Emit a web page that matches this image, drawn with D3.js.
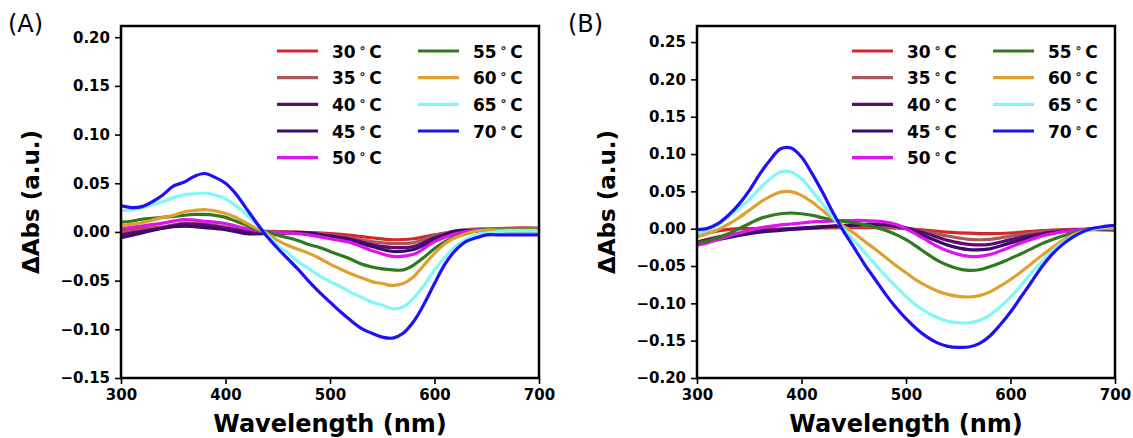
<!DOCTYPE html>
<html>
<head>
<meta charset="utf-8">
<script src="https://cdn.jsdelivr.net/npm/d3@7"></script>
<style>
  html, body { margin: 0; padding: 0; background: #fff; }
  svg { display: block; }
  text { font-family: "DejaVu Sans", sans-serif; }
</style>
</head>
<body>
<svg id="chart" width="1133" height="438"></svg>
<script>
// ---------- data ----------
const temps = ["30", "35", "40", "45", "50", "55", "60", "65", "70"];
const colors = ["#d62728", "#a65a5a", "#5e0a72", "#3d0a6b", "#dc14f0", "#2f7a1f", "#e0a030", "#80f8f8", "#1f10f5"];

const wl10 = [300,310,320,330,340,350,360,370,380,390,400,410,420,430,440,450,460,470,480,490,500,
              510,520,530,540,550,560,570,580,590,600,610,620,630,640,650,660,670,680,690,700];
const wl20 = [300,320,340,360,380,400,420,440,460,480,500,520,540,560,580,600,620,640,660,680,700];

const xTicks = [300, 400, 500, 600, 700];
const yTicksA = [-0.15, -0.10, -0.05, 0.00, 0.05, 0.10, 0.15, 0.20];
const yTicksB = [-0.20, -0.15, -0.10, -0.05, 0.00, 0.05, 0.10, 0.15, 0.20, 0.25];

// Panel A (20 nm sampling for the small curves, 10 nm for the large ones)
const a30 = [0.0017,0.0034,0.005,0.0065,0.006,0.004,0.0017,0.0007,0,-0.0007,-0.0017,-0.0034,-0.006,-0.008,-0.007,-0.003,0.0007,0.0024,0.0034,0.004,0.0034];
const a35 = [-0.001,0.002,0.005,0.009,0.008,0.005,0.0015,0,0,-0.001,-0.003,-0.006,-0.010,-0.012,-0.011,-0.004,0.001,0.003,0.003,0.004,0.004];
const a40 = [-0.003,0.0007,0.004,0.008,0.007,0.004,0.0007,-0.0007,-0.0007,-0.002,-0.004,-0.0075,-0.013,-0.016,-0.015,-0.006,0,0.0017,0.0017,0.0017,0.0017];
const a45 = [-0.006,-0.001,0.004,0.006,0.0045,0.0024,-0.0017,-0.0017,-0.001,-0.001,-0.005,-0.0086,-0.015,-0.020,-0.018,-0.008,0.001,0.001,0.001,0.001,0.001];
const a50 = [0.0034,0.006,0.009,0.0127,0.011,0.0086,0.0034,0,-0.001,-0.003,-0.007,-0.011,-0.019,-0.025,-0.023,-0.010,-0.002,0.002,0.002,0.002,0.002];
const a55 = [0.010,0.011,0.013,0.014,0.015,0.016,0.017,0.018,0.018,0.017,0.015,0.011,0.007,0.0024,0,-0.0034,-0.006,-0.009,-0.013,-0.016,-0.020,
             -0.024,-0.028,-0.033,-0.036,-0.038,-0.039,-0.039,-0.034,-0.026,-0.017,-0.010,-0.005,-0.002,0.001,0.0024,0.0024,0.0024,0.0024,0.0024,0.0024];
const a60 = [0.006,0.008,0.0096,0.012,0.015,0.017,0.0205,0.022,0.023,0.0216,0.019,0.015,0.009,0.0034,-0.0017,-0.0086,-0.014,-0.018,-0.022,-0.027,-0.033,
             -0.038,-0.043,-0.047,-0.051,-0.053,-0.055,-0.053,-0.046,-0.034,-0.022,-0.012,-0.006,-0.002,0.001,0.002,0.002,0.002,0.002,0.002,0.002];
const a65 = [0.0216,0.023,0.025,0.028,0.031,0.035,0.038,0.039,0.040,0.038,0.034,0.027,0.018,0.0075,-0.0034,-0.014,-0.022,-0.031,-0.038,-0.045,-0.051,
             -0.056,-0.062,-0.067,-0.072,-0.075,-0.079,-0.077,-0.068,-0.055,-0.039,-0.026,-0.015,-0.008,-0.003,-0.001,0,0.001,0.001,0.001,0.001];
const a70 = [0.027,0.025,0.026,0.031,0.038,0.047,0.051,0.057,0.060,0.056,0.050,0.039,0.024,0.009,-0.005,-0.017,-0.028,-0.039,-0.051,-0.062,-0.072,
             -0.082,-0.091,-0.099,-0.104,-0.108,-0.109,-0.104,-0.092,-0.074,-0.053,-0.033,-0.019,-0.010,-0.006,-0.003,-0.003,-0.003,-0.003,-0.003,-0.003];

// Panel B
const b30 = [-0.009,-0.003,0,0,-0.0004,0,0.001,0.0013,0.0013,0.0013,0,-0.0022,-0.0045,-0.006,-0.0067,-0.0058,-0.0036,-0.0018,-0.0009,-0.0013,-0.002];
const b35 = [-0.018,-0.011,-0.0067,-0.003,-0.0013,0.0004,0.0018,0.0027,0.003,0.003,0.0004,-0.0045,-0.0098,-0.0143,-0.0143,-0.010,-0.006,-0.003,-0.0013,-0.0004,-0.0013];
const b40 = [-0.018,-0.012,-0.0067,-0.003,-0.001,0.001,0.0027,0.004,0.0054,0.005,0.0013,-0.0067,-0.0156,-0.021,-0.021,-0.0147,-0.009,-0.0045,-0.0018,-0.0004,-0.0004];
const b45 = [-0.020,-0.0147,-0.009,-0.0045,-0.0022,0,0.0022,0.004,0.0058,0.0058,0,-0.011,-0.022,-0.028,-0.027,-0.019,-0.012,-0.0058,-0.0022,-0.0004,-0.0004];
const b50 = [-0.022,-0.019,-0.0147,-0.010,-0.0058,-0.0022,0.001,0.003,0.005,0.0063,0.0076,0.009,0.0098,0.0103,0.0107,0.011,0.011,0.0103,0.009,0.0058,0,
             -0.0076,-0.0156,-0.0237,-0.030,-0.0344,-0.037,-0.037,-0.0348,-0.030,-0.0246,-0.019,-0.0143,-0.0098,-0.0067,-0.004,-0.0022,-0.0009,0,0,0];
const b55 = [-0.019,-0.0165,-0.012,-0.0067,0,0.0067,0.0134,0.0174,0.020,0.021,0.020,0.018,0.0147,0.012,0.0098,0.008,0.0054,0.0022,-0.0022,-0.0076,-0.0147,
             -0.0237,-0.0335,-0.0424,-0.049,-0.0536,-0.0558,-0.055,-0.051,-0.046,-0.040,-0.0335,-0.027,-0.020,-0.0147,-0.0098,-0.0058,-0.0022,-0.0004,0,0];
const b60 = [-0.011,-0.0067,-0.0013,0.006,0.0147,0.0246,0.035,0.0433,0.049,0.0496,0.0446,0.0357,0.0246,0.0134,0.0036,-0.0058,-0.0165,-0.027,-0.038,-0.049,-0.059,
             -0.069,-0.077,-0.0835,-0.088,-0.0906,-0.0915,-0.0897,-0.085,-0.077,-0.068,-0.058,-0.047,-0.036,-0.0254,-0.0156,-0.008,-0.003,-0.0004,0.0004,0.0004];
const b65 = [-0.0067,-0.002,0.005,0.0156,0.027,0.039,0.054,0.067,0.076,0.076,0.067,0.051,0.0335,0.0156,0,-0.0156,-0.031,-0.047,-0.0625,-0.077,-0.0906,
             -0.103,-0.112,-0.119,-0.124,-0.126,-0.126,-0.123,-0.116,-0.105,-0.0915,-0.076,-0.059,-0.044,-0.030,-0.019,-0.010,-0.0045,-0.0004,0.002,0.003];
const b70 = [-0.0013,0.0004,0.0067,0.018,0.0326,0.051,0.073,0.092,0.107,0.108,0.096,0.074,0.049,0.022,-0.003,-0.0246,-0.047,-0.067,-0.087,-0.105,-0.1205,
             -0.134,-0.145,-0.153,-0.1576,-0.159,-0.1585,-0.154,-0.144,-0.129,-0.1116,-0.0915,-0.0714,-0.051,-0.034,-0.021,-0.011,-0.0036,0.0009,0.003,0.0045];

const seriesA = [[wl20,a30],[wl20,a35],[wl20,a40],[wl20,a45],[wl20,a50],[wl10,a55],[wl10,a60],[wl10,a65],[wl10,a70]];
const seriesB = [[wl20,b30],[wl20,b35],[wl20,b40],[wl20,b45],[wl10,b50],[wl10,b55],[wl10,b60],[wl10,b65],[wl10,b70]];

// ---------- drawing ----------
const svg = d3.select("#chart");

function panel(opts) {
  const { left, right, top, bottom, yDomain, yTicks, series, tag, tagX, legX } = opts;
  const x = d3.scaleLinear().domain([300, 700]).range([left, right]);
  const y = d3.scaleLinear().domain(yDomain).range([bottom, top]);
  const g = svg.append("g");

  const clipId = "clip" + tag;
  svg.append("clipPath").attr("id", clipId).append("rect")
    .attr("x", left).attr("y", top).attr("width", right - left).attr("height", bottom - top);

  const line = d3.line().curve(d3.curveCatmullRom.alpha(0.5));
  const lg = g.append("g").attr("clip-path", `url(#${clipId})`);
  series.forEach((s, i) => {
    const pts = s[0].map((w, k) => [x(w), y(s[1][k])]);
    lg.append("path").attr("d", line(pts)).attr("fill", "none")
      .attr("stroke", colors[i]).attr("stroke-width", 3.2).attr("stroke-linejoin", "round");
  });

  // axes
  const xAxis = d3.axisBottom(x).tickValues(xTicks).tickSize(6).tickPadding(5).tickFormat(d3.format("d"));
  const yAxis = d3.axisLeft(y).tickValues(yTicks).tickSize(6).tickPadding(5)
    .tickFormat(d => d3.format(".2f")(d).replace("-", "\u2212"));
  const gx = g.append("g").attr("transform", `translate(0,${bottom})`).call(xAxis);
  const gy = g.append("g").attr("transform", `translate(${left},0)`).call(yAxis);
  [gx, gy].forEach(a => {
    a.select(".domain").remove();
    a.selectAll(".tick line").attr("stroke", "#000").attr("stroke-width", 1.6);
    a.selectAll(".tick text").attr("font-family", "DejaVu Sans").attr("font-weight", "bold")
      .attr("font-size", 15).attr("fill", "#000");
  });

  // frame
  g.append("rect").attr("x", left).attr("y", top).attr("width", right - left).attr("height", bottom - top)
    .attr("fill", "none").attr("stroke", "#000").attr("stroke-width", 2.5);

  // axis labels
  g.append("text").attr("x", (left + right) / 2).attr("y", 432).attr("text-anchor", "middle")
    .attr("font-weight", "bold").attr("font-size", 24).text("Wavelength (nm)");
  g.append("text").attr("transform", `translate(${left - 82},${(top + bottom) / 2}) rotate(-90)`)
    .attr("text-anchor", "middle").attr("font-weight", "bold").attr("font-size", 23).text("\u0394Abs (a.u.)");

  // panel tag
  g.append("text").attr("x", tagX).attr("y", 32).attr("font-family", "Liberation Sans, Arial, sans-serif")
    .attr("font-size", 24).text(`(${tag})`);

  // legend
  const rowY = [51, 77.7, 104.3, 131, 157.7];
  temps.forEach((t, i) => {
    const col = i < 5 ? 0 : 1;
    const row = i < 5 ? i : i - 5;
    const lx = legX + col * 141;
    const ly = rowY[row];
    g.append("line").attr("x1", lx).attr("x2", lx + 41).attr("y1", ly).attr("y2", ly)
      .attr("stroke", colors[i]).attr("stroke-width", 3.2);
    const tx = g.append("text").attr("x", lx + 55).attr("y", ly + 6.5)
      .attr("font-weight", "bold").attr("font-size", 17);
    tx.append("tspan").text(t);
    tx.append("tspan").attr("dx", 3).attr("font-size", 12).attr("dy", -6).text("\u2218");
    tx.append("tspan").attr("dx", 3).attr("dy", 6).text("C");
  });
}

panel({ left: 121, right: 539, top: 26, bottom: 378, yDomain: [-0.15, 0.2115], yTicks: yTicksA,
        series: seriesA, tag: "A", tagX: 8, legX: 277 });
panel({ left: 697, right: 1115, top: 26, bottom: 378, yDomain: [-0.20, 0.2715], yTicks: yTicksB,
        series: seriesB, tag: "B", tagX: 568, legX: 852 });
</script>
</body>
</html>
